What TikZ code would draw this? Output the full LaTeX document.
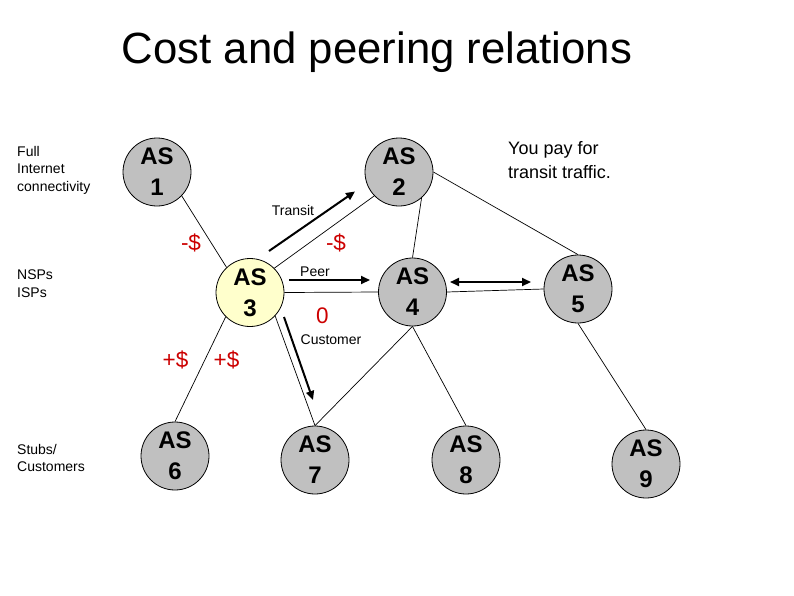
\documentclass[tikz,border=0pt]{standalone}
\usepackage{fontspec}
\setmainfont{Liberation Sans}
\usetikzlibrary{arrows.meta}
\definecolor{asgray}{RGB}{192,192,192}
\definecolor{asyellow}{RGB}{255,255,204}
\definecolor{costred}{RGB}{204,0,0}
\begin{document}
\begin{tikzpicture}[x=1pt,y=-1pt,
  asnode/.style={circle,draw=black,line width=0.8pt,fill=asgray,minimum size=68pt,inner sep=0pt,align=center,font=\fontsize{24}{31}\selectfont\bfseries},
  link/.style={line width=0.7pt},
  flow/.style={line width=2pt,-{Triangle[length=9pt,width=8pt]}},
  biflow/.style={line width=2pt,{Triangle[length=9pt,width=8pt]}-{Triangle[length=9pt,width=8pt]}},
  lbl/.style={font=\fontsize{14}{17.5}\selectfont,inner sep=0pt,align=left},
  small/.style={font=\fontsize{14}{17}\selectfont,inner sep=0pt},
  cost/.style={font=\fontsize{22.5}{26}\selectfont,text=costred,inner sep=0pt},
]
\useasboundingbox (0,0) rectangle (794,595);

% title
\node[font=\fontsize{43.7}{50}\selectfont,anchor=base,inner sep=0pt] (title) at (377,63) {Cost and peering relations};

% level labels
\node[lbl,anchor=north west] (full) at (17,146) {Full\\Internet\\connectivity};
\node[lbl,anchor=north west] (nsp) at (17,270) {NSPs\\ISPs};
\node[lbl,anchor=north west] (stub) at (17,444) {Stubs/\\Customers};

% AS nodes
\node[asnode] (as1) at (157,172) {AS\\1};
\node[asnode] (as2) at (399,172) {AS\\2};
\node[asnode,fill=asyellow] (as3) at (250,292.5) {AS\\3};
\node[asnode] (as4) at (412.5,292) {AS\\4};
\node[asnode] (as5) at (578,289) {AS\\5};
\node[asnode] (as6) at (175,456) {AS\\6};
\node[asnode] (as7) at (315,460) {AS\\7};
\node[asnode] (as8) at (466,460) {AS\\8};
\node[asnode] (as9) at (646,464) {AS\\9};

% links
\draw[link] (as1.-44) -- (as3.133);
\draw[link] (as2.224) -- (as3.45);
\draw[link] (as2.-49) -- (as4.north);
\draw[link] (as2.east) -- (as5.north);
\draw[link] (as3.east) -- (as4.west);
\draw[link] (as4.east) -- (as5.west);
\draw[link] (as3.225) -- (as6.north);
\draw[link] (as3.-43) -- (as7.north);
\draw[link] (as4.south) -- (as7.north);
\draw[link] (as4.south) -- (as8.north);
\draw[link] (as5.south) -- (as9.north);

% flow arrows
\coordinate (tr1) at (269,251);
\coordinate (tr2) at (355,191.5);
\coordinate (pe1) at (289,280);
\coordinate (pe2) at (370,280);
\coordinate (pp1) at (450,282);
\coordinate (pp2) at (531,282);
\coordinate (cu1) at (284,317);
\coordinate (cu2) at (313,400);
\draw[flow] (tr1) -- (tr2);
\draw[flow] (pe1) -- (pe2);
\draw[biflow] (pp1) -- (pp2);
\draw[flow] (cu1) -- (cu2);

% small labels
\node[small] (transit) at (293,210) {Transit};
\node[small] (peer) at (315,272) {Peer};
\node[small] (customer) at (331,340) {Customer};

% cost labels
\node[cost] (c1) at (191,242.5) {-\$};
\node[cost] (c2) at (336,242.5) {-\$};
\node[cost] (c3) at (322.5,315.5) {0};
\node[cost] (c4) at (175.5,360) {+\$};
\node[cost] (c5) at (226.5,360) {+\$};

% note
\node[font=\fontsize{18}{24}\selectfont,inner sep=0pt,align=left,anchor=north west] (note) at (508,141) {You pay for\\transit traffic.};
\end{tikzpicture}
\end{document}
